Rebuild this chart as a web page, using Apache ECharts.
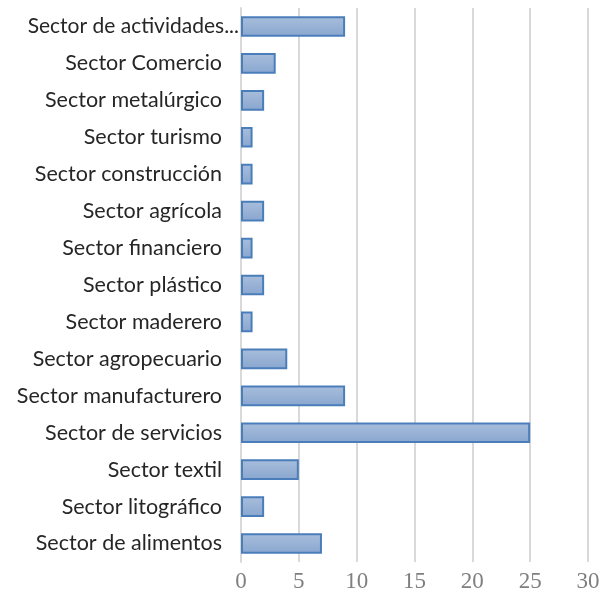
<!DOCTYPE html>
<html><head><meta charset="utf-8">
<script src="https://cdn.jsdelivr.net/npm/echarts@6/dist/echarts.min.js"></script>
<style>html,body{margin:0;padding:0;background:#fff}#c{width:607px;height:598px}</style>
</head><body><div id="c"></div>
<script>
const categories = ["Sector de alimentos","Sector litográfico","Sector textil","Sector de servicios","Sector manufacturero","Sector agropecuario","Sector maderero","Sector plástico","Sector financiero","Sector agrícola","Sector construcción","Sector turismo","Sector metalúrgico","Sector Comercio","Sector de actividades..."];
const values = [7,2,5,25,9,4,1,2,1,2,1,1,2,3,9];
const xTicks = {min:0,max:30,interval:5};
const chart = echarts.init(document.getElementById('c'));
chart.setOption({
  animation:false,
  grid:{left:241,right:19,top:8,bottom:36,containLabel:false},
  xAxis:{type:'value',min:xTicks.min,max:xTicks.max,interval:xTicks.interval,
    axisLine:{show:false},axisTick:{show:false},
    splitLine:{lineStyle:{color:'#d9d9d9',width:2}},
    axisLabel:{color:'#7f7f7f',fontFamily:'Liberation Serif',fontSize:23,margin:8}},
  yAxis:{type:'category',data:categories,
    axisLine:{show:true,lineStyle:{color:'#d9d9d9',width:2}},axisTick:{show:false},
    axisLabel:{color:'#262626',fontFamily:'Lato',fontSize:21.5,margin:2,
      formatter:function(v){return v.endsWith('...') ? '{e|'+v+'}' : '{n|'+v+'}';},
      rich:{e:{fontFamily:'Lato',fontSize:21,color:'#262626',padding:[0,0,0,0]},
            n:{fontFamily:'Lato',fontSize:21.5,color:'#262626',padding:[0,17,0,0]}}}},
  series:[{type:'bar',data:values,barCategoryGap:'44%',
    itemStyle:{borderColor:'#4a7ebb',borderWidth:2,
      color:new echarts.graphic.LinearGradient(0,0,0,1,[{offset:0,color:'#a8bedc'},{offset:1,color:'#89a6cf'}])}}]
});
</script></body></html>
